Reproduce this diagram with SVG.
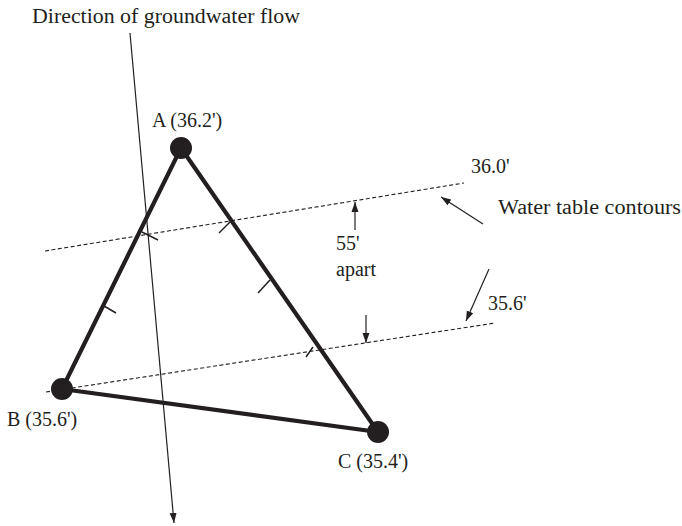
<svg xmlns="http://www.w3.org/2000/svg" width="682" height="526" viewBox="0 0 682 526">
<defs>
<style>
text{font-family:"Liberation Serif","Times New Roman",serif;font-size:20px;fill:#231f20}
.edge{stroke:#231f20;stroke-width:4.2;fill:none;stroke-linecap:round}
.contour{stroke:#231f20;stroke-width:1.1;stroke-dasharray:4 2.5;fill:none}
.thin{stroke:#231f20;stroke-width:1.2;fill:none}
.tick{stroke:#231f20;stroke-width:1.5;fill:none}
.well{fill:#231f20}
</style>
<marker id="ah" markerUnits="userSpaceOnUse" markerWidth="10" markerHeight="10" viewBox="0 0 10 10" refX="10" refY="5" orient="auto">
<path d="M0,1.5 L10,5 L0,8.5 Z" fill="#231f20"/>
</marker>
</defs>
<rect width="682" height="526" fill="#ffffff"/>
<g id="contours">
<line class="contour" x1="45" y1="251" x2="464" y2="183"/>
<line class="contour" x1="46" y1="392" x2="495" y2="323"/>
</g>
<g id="connectors">
<line class="thin" x1="130" y1="33" x2="174" y2="523" marker-end="url(#ah)"/>
<line class="thin" x1="355" y1="230" x2="355" y2="202" marker-end="url(#ah)"/>
<line class="thin" x1="366" y1="315" x2="366" y2="343" marker-end="url(#ah)"/>
<line class="thin" x1="483" y1="224" x2="441" y2="197" marker-end="url(#ah)"/>
<line class="thin" x1="489" y1="269" x2="466" y2="321" marker-end="url(#ah)"/>
<line class="edge" x1="181" y1="148" x2="62" y2="389"/>
<line class="edge" x1="181" y1="148" x2="378" y2="432"/>
<line class="edge" x1="62" y1="389" x2="378" y2="432"/>
<line class="tick" x1="142" y1="232" x2="158" y2="240"/>
<line class="tick" x1="104" y1="306" x2="116" y2="313"/>
<line class="tick" x1="230" y1="222" x2="219" y2="233"/>
<line class="tick" x1="270" y1="280" x2="258" y2="293"/>
<line class="tick" x1="313" y1="347" x2="306" y2="357"/>
</g>
<g id="node-A"><circle class="well" cx="181" cy="148" r="11"/><text x="152" y="127">A (36.2')</text></g>
<g id="node-B"><circle class="well" cx="62" cy="389" r="11"/><text x="7" y="426">B (35.6')</text></g>
<g id="node-C"><circle class="well" cx="378" cy="432" r="11"/><text x="338" y="468">C (35.4')</text></g>
<g id="labels">
<text x="32" y="23" textLength="268" lengthAdjust="spacingAndGlyphs">Direction of groundwater flow</text>
<text x="471" y="173">36.0'</text>
<text x="488" y="310">35.6'</text>
<text x="498" y="214" textLength="183" lengthAdjust="spacingAndGlyphs">Water table contours</text>
<text x="336" y="250">55'</text>
<text x="336" y="276">apart</text>
</g>
</svg>
